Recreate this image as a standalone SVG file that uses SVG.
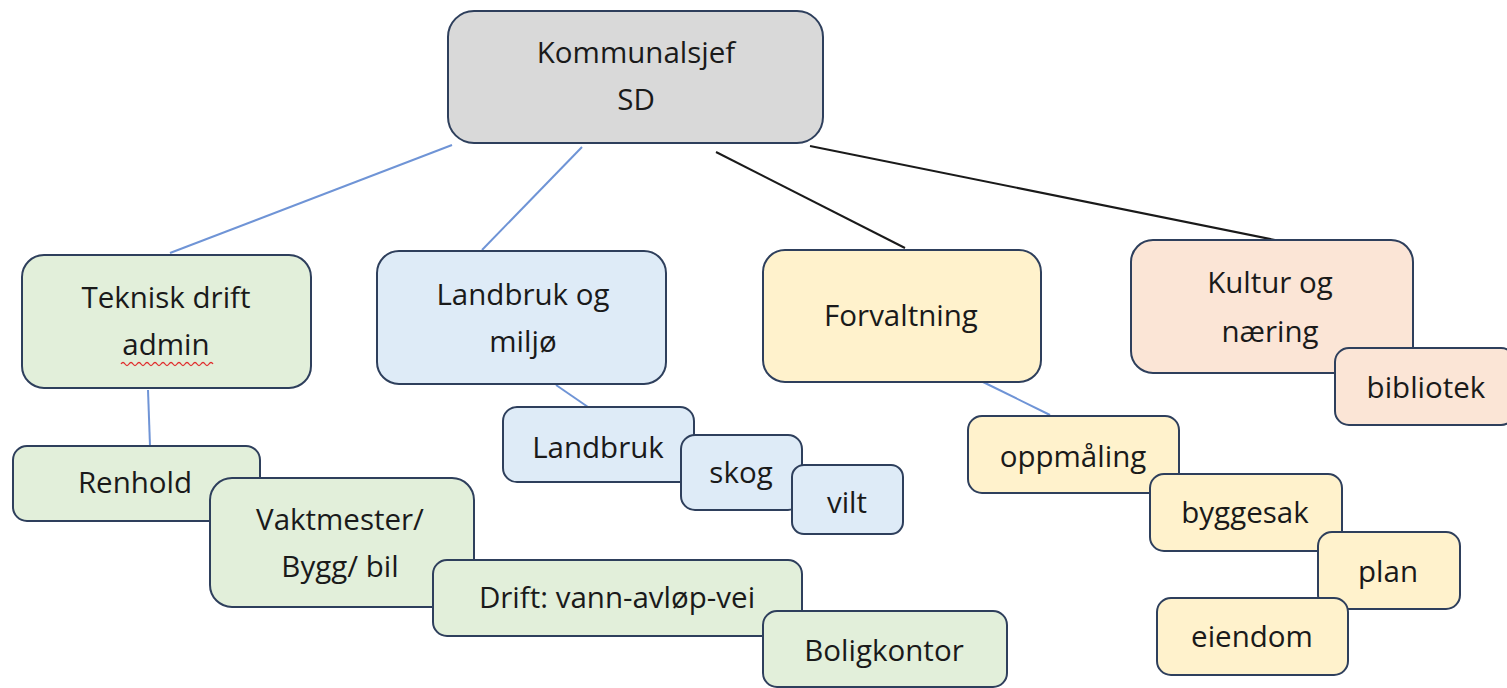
<svg xmlns="http://www.w3.org/2000/svg" width="1507" height="688" viewBox="0 0 1507 688">
<style>
.b{stroke:#2e3f5c;stroke-width:2}
.g{fill:#d9d9d9}.gr{fill:#e2efda}.bl{fill:#deebf7}.y{fill:#fff2cc}.p{fill:#fbe5d6}
text{font-family:"Open Sans","Noto Sans",sans-serif;font-size:29.5px;fill:#1a1a1a;text-anchor:middle}
.cb{stroke:#6f94d6;stroke-width:2;fill:none}
.ck{stroke:#1a1a1a;stroke-width:2;fill:none}
</style>
<g id="connectors">
<line class="cb" x1="452" y1="145" x2="170" y2="253"/>
<line class="cb" x1="582" y1="147" x2="482" y2="250"/>
<line class="ck" x1="716" y1="152" x2="905" y2="248"/>
<line class="ck" x1="810" y1="146" x2="1275" y2="240"/>
<line class="cb" x1="148" y1="390" x2="150" y2="446"/>
<line class="cb" x1="556" y1="385" x2="588" y2="407"/>
<line class="cb" x1="983" y1="382" x2="1050" y2="415"/>
</g>
<g id="kommunalsjef"><rect class="b g" x="448" y="11" width="375" height="132" rx="26"/><text x="636" y="63">Kommunalsjef</text><text x="636" y="110">SD</text></g>
<g id="teknisk"><rect class="b gr" x="22" y="255" width="289" height="133" rx="22"/><text x="166" y="308">Teknisk drift</text><text x="166" y="355">admin</text><path d="M121 364 q2 -3 4 0 t4 0 t4 0 t4 0 t4 0 t4 0 t4 0 t4 0 t4 0 t4 0 t4 0 t4 0 t4 0 t4 0 t4 0 t4 0 t4 0 t4 0 t4 0 t4 0 t4 0 t4 0 t4 0" fill="none" stroke="#e03030" stroke-width="1.3"/></g>
<g id="landbruk-miljo"><rect class="b bl" x="377" y="251" width="289" height="133" rx="22"/><text x="523" y="305">Landbruk og</text><text x="523" y="352">miljø</text></g>
<g id="forvaltning"><rect class="b y" x="763" y="250" width="278" height="132" rx="22"/><text x="901" y="326">Forvaltning</text></g>
<g id="kultur"><rect class="b p" x="1131" y="240" width="282" height="133" rx="22"/><text x="1270" y="293">Kultur og</text><text x="1270" y="342">næring</text></g>
<g id="bibliotek"><rect class="b p" x="1335" y="348" width="180" height="77" rx="14"/><text x="1426" y="398">bibliotek</text></g>
<g id="renhold"><rect class="b gr" x="13" y="446" width="247" height="75" rx="14"/><text x="135" y="493">Renhold</text></g>
<g id="vaktmester"><rect class="b gr" x="210" y="478" width="264" height="129" rx="22"/><text x="340" y="530">Vaktmester/</text><text x="340" y="577">Bygg/ bil</text></g>
<g id="drift"><rect class="b gr" x="433" y="560" width="369" height="76" rx="14"/><text x="617" y="608">Drift: vann-avløp-vei</text></g>
<g id="boligkontor"><rect class="b gr" x="763" y="611" width="244" height="76" rx="14"/><text x="884" y="661">Boligkontor</text></g>
<g id="landbruk"><rect class="b bl" x="503" y="407" width="191" height="75" rx="14"/><text x="598" y="458">Landbruk</text></g>
<g id="skog"><rect class="b bl" x="681" y="435" width="121" height="75" rx="14"/><text x="741" y="483">skog</text></g>
<g id="vilt"><rect class="b bl" x="792" y="465" width="111" height="69" rx="12"/><text x="847" y="513">vilt</text></g>
<g id="oppmaling"><rect class="b y" x="968" y="416" width="211" height="77" rx="14"/><text x="1073" y="467">oppmåling</text></g>
<g id="byggesak"><rect class="b y" x="1150" y="474" width="192" height="77" rx="14"/><text x="1245" y="523">byggesak</text></g>
<g id="plan"><rect class="b y" x="1318" y="532" width="142" height="77" rx="14"/><text x="1388" y="582">plan</text></g>
<g id="eiendom"><rect class="b y" x="1157" y="598" width="191" height="77" rx="14"/><text x="1252" y="647">eiendom</text></g>
</svg>
